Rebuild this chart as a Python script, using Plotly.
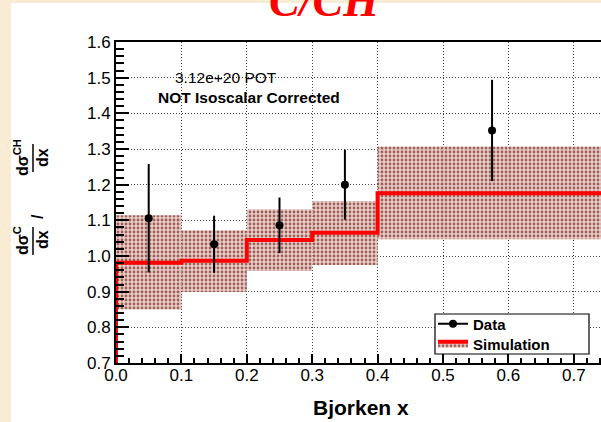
import plotly.graph_objects as go

# ---------------- data ----------------
bin_edges = [0.0, 0.1, 0.2, 0.3, 0.4, 1.0]
sim_ratio = [0.981, 0.987, 1.045, 1.065, 1.176]
sim_band_low = [0.850, 0.899, 0.958, 0.975, 1.047]
sim_band_high = [1.114, 1.072, 1.131, 1.154, 1.307]

data_x = [0.05, 0.15, 0.25, 0.35, 0.575]
data_y = [1.106, 1.033, 1.086, 1.200, 1.352]
data_err = [0.152, 0.080, 0.078, 0.098, 0.142]

x_ticks = [0.0, 0.1, 0.2, 0.3, 0.4, 0.5, 0.6, 0.7]
y_ticks = [0.7, 0.8, 0.9, 1.0, 1.1, 1.2, 1.3, 1.4, 1.5, 1.6]

X_RANGE = [0.0, 0.7416]
Y_RANGE = [0.7, 1.6]

# ---------------- layout geometry ----------------
W, H = 601, 422
ML, MR, MT, MB = 116, 0, 42, 59
PW, PH = W - ML - MR, H - MT - MB


def px2x(px):
    return (px - ML) / PW


def py2y(py):
    return (H - MB - py) / PH


BAND_FG = "#9c6058"
BAND_BG = "rgba(230,198,193,0.88)"
FONT = "Liberation Sans"

band_pattern = dict(shape=".", fgcolor=BAND_FG, bgcolor=BAND_BG,
                    size=4, solidity=0.38, fillmode="replace")

fig = go.Figure()

# simulation uncertainty band
centers = [(bin_edges[i] + bin_edges[i + 1]) / 2 for i in range(len(sim_ratio))]
widths = [bin_edges[i + 1] - bin_edges[i] for i in range(len(sim_ratio))]
heights = [h - l for h, l in zip(sim_band_high, sim_band_low)]
fig.add_trace(go.Bar(
    x=centers, y=heights, base=sim_band_low, width=widths,
    marker=dict(color=BAND_BG, line=dict(width=0), pattern=band_pattern),
    showlegend=False, hoverinfo="skip",
))

# simulation central value (histogram outline)
step_x = [bin_edges[0]] + bin_edges
step_y = [Y_RANGE[0]] + sim_ratio + [sim_ratio[-1]]
fig.add_trace(go.Scatter(
    x=step_x, y=step_y, mode="lines", line=dict(color="#ff0000", width=4, shape="hv"),
    showlegend=False, hoverinfo="skip",
))

# data points
fig.add_trace(go.Scatter(
    x=data_x, y=data_y, mode="markers",
    marker=dict(color="black", size=8, symbol="circle"),
    error_y=dict(type="data", array=data_err, color="black", thickness=2, width=0),
    showlegend=False, hoverinfo="skip",
))

# legend entries (one legend per row so the rows sit where the reference has them)
fig.add_trace(go.Scatter(
    x=[None], y=[None], mode="lines+markers", name="Data", legend="legend",
    line=dict(color="black", width=2), marker=dict(color="black", size=8),
))
fig.add_trace(go.Scatter(
    x=[None], y=[None], mode="lines", name="Simulation", legend="legend2",
    fill="toself", fillcolor=BAND_BG, fillpattern=band_pattern,
    line=dict(color="#ff0000", width=4),
))

axis_common = dict(
    showline=True, linecolor="black", linewidth=2,
    ticks="inside", tickcolor="black", tickwidth=1.5,
    showgrid=True, gridcolor="#444444", gridwidth=1, griddash="1px,2px",
    zeroline=False, tickformat=".1f",
    tickfont=dict(family=FONT, size=17, color="black"),
)

fig.update_xaxes(
    range=X_RANGE, tickvals=x_ticks, ticklen=9, mirror=True,
    ticklabelstandoff=-4,
    minor=dict(ticks="inside", ticklen=5, dtick=0.02, tickcolor="black",
               tickwidth=1.5, showgrid=False),
    **axis_common,
)
fig.update_yaxes(
    range=Y_RANGE, tickvals=y_ticks, ticklen=13,
    minor=dict(ticks="inside", ticklen=8, dtick=0.02, tickcolor="black",
               tickwidth=1.5, showgrid=False),
    **axis_common,
)

shapes = [
    # white slide area over the pale background
    dict(type="rect", xref="paper", yref="paper",
         x0=px2x(11), x1=px2x(W + 5), y0=py2y(H + 10), y1=py2y(3),
         fillcolor="white", line=dict(width=0), layer="below"),
    # legend box
    dict(type="rect", xref="paper", yref="paper",
         x0=px2x(435), x1=px2x(589), y0=py2y(354), y1=py2y(314),
         fillcolor="white", line=dict(color="black", width=1.2), layer="above"),
    # fraction bars of the y-axis title
    dict(type="line", xref="paper", yref="paper",
         x0=px2x(33), x1=px2x(33), y0=py2y(144), y1=py2y(172),
         line=dict(color="black", width=1.5)),
    dict(type="line", xref="paper", yref="paper",
         x0=px2x(33), x1=px2x(33), y0=py2y(227), y1=py2y(255),
         line=dict(color="black", width=1.5)),
]

bold = dict(family=FONT, size=16, color="black", weight="bold")
annotations = [
    # slide title (cut off at the top)
    dict(text="C/CH", xref="paper", yref="paper", x=px2x(324), y=py2y(28),
         xanchor="center", yanchor="bottom", showarrow=False,
         font=dict(family="Liberation Serif", size=46, color="#ff0000",
                   weight="bold", style="italic")),
    dict(text="3.12e+20 POT", xref="paper", yref="paper", x=px2x(226), y=py2y(77),
         xanchor="center", yanchor="middle", showarrow=False,
         font=dict(family=FONT, size=15.5, color="black")),
    dict(text="NOT Isoscalar Corrected", xref="paper", yref="paper",
         x=px2x(249), y=py2y(97), xanchor="center", yanchor="middle",
         showarrow=False, font=dict(family=FONT, size=15.5, color="black", weight="bold")),
    dict(text="Bjorken x", xref="paper", yref="paper", x=px2x(361), y=py2y(408),
         xanchor="center", yanchor="middle", showarrow=False,
         font=dict(family=FONT, size=21, color="black", weight="bold")),
    # y-axis title: dσ^C/dx / dσ^CH/dx (stacked fractions, rotated)
    dict(text="dσ<sup>CH</sup>", xref="paper", yref="paper", x=px2x(21), y=py2y(158),
         xanchor="center", yanchor="middle", textangle=-90, showarrow=False, font=bold),
    dict(text="dx", xref="paper", yref="paper", x=px2x(42), y=py2y(158),
         xanchor="center", yanchor="middle", textangle=-90, showarrow=False, font=bold),
    dict(text="/", xref="paper", yref="paper", x=px2x(38), y=py2y(217),
         xanchor="center", yanchor="middle", textangle=-90, showarrow=False, font=bold),
    dict(text="dσ<sup>C</sup>", xref="paper", yref="paper", x=px2x(21), y=py2y(241),
         xanchor="center", yanchor="middle", textangle=-90, showarrow=False, font=bold),
    dict(text="dx", xref="paper", yref="paper", x=px2x(42), y=py2y(240),
         xanchor="center", yanchor="middle", textangle=-90, showarrow=False, font=bold),
]

legend_common = dict(
    xanchor="left", yanchor="middle", bgcolor="rgba(0,0,0,0)", borderwidth=0,
    font=dict(family=FONT, size=15, color="black", weight="bold"),
    itemwidth=30, tracegroupgap=0,
)

fig.update_layout(
    width=W, height=H,
    margin=dict(l=ML, r=MR, t=MT, b=MB, pad=0),
    paper_bgcolor="#faebd4", plot_bgcolor="white",
    barmode="overlay",
    shapes=shapes, annotations=annotations,
    legend=dict(x=px2x(433), y=py2y(324), **legend_common),
    legend2=dict(x=px2x(433), y=py2y(344), **legend_common),
    showlegend=True,
)

fig.write_html("out.html")
